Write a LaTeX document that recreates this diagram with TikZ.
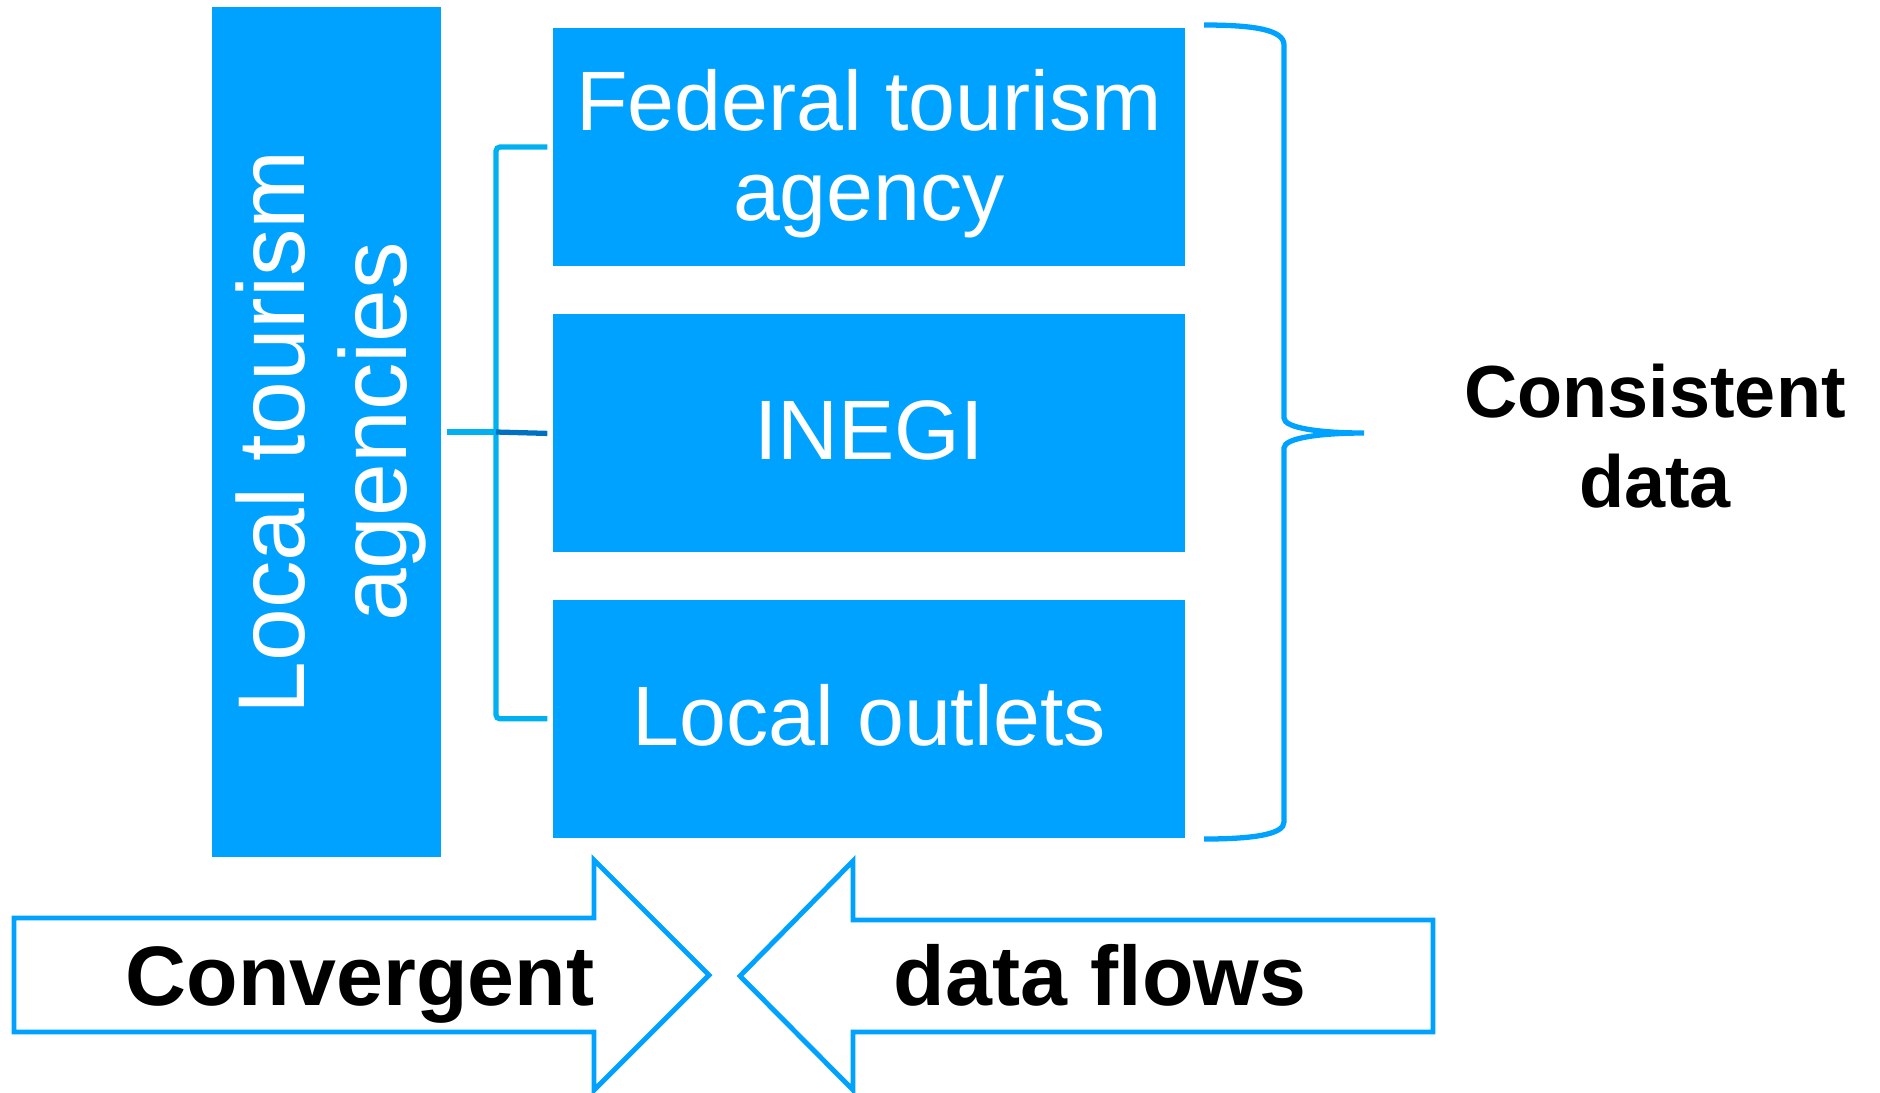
\documentclass[tikz,border=0pt]{standalone}
\usepackage{fontspec}
\setmainfont{Liberation Sans}
\usepackage{xcolor}
\usepackage{tikz}
\usetikzlibrary{positioning,calc}
\definecolor{boxblue}{RGB}{0,162,255}
\definecolor{linkcyan}{RGB}{0,176,240}
\definecolor{linkdark}{RGB}{0,112,192}

\begin{document}
\begin{tikzpicture}[x=0.1mm,y=-0.1mm]
  \tikzstyle{agency} = [fill=boxblue,text=white,inner sep=0pt,minimum width=63.2mm,minimum height=23.8mm,align=center,font=\fontsize{24}{25.6}\selectfont]
  \tikzstyle{bracket} = [draw=linkcyan,line width=1.5pt,rounded corners=0.4mm]
  \tikzstyle{brace} = [draw=boxblue,line width=1.5pt]
  \tikzstyle{flow} = [draw=boxblue,line width=1.4pt,fill=white,line join=miter]
  \tikzstyle{flowtext} = [anchor=base,font=\fontsize{24}{26}\selectfont\bfseries]
  %
  \useasboundingbox (0,0) rectangle (1880,1092);
  % Left column (rotated, so its south is on the right).
  \node[fill=boxblue,text=white,rotate=90,inner sep=0pt,minimum width=85mm,minimum height=22.9mm,align=center,font=\fontsize{27}{29}\selectfont] (local) at (326.5,432) {\rule{0pt}{22pt}Local tourism\\agencies};
  % Stack of sources.
  \node[agency] (fed) at (869,147) {\rule{0pt}{21pt}Federal tourism\\agency};
  \node[agency, below=4.7mm of fed] (inegi) {INEGI\rule[-2pt]{0pt}{1pt}};
  \node[agency, below=4.6mm of inegi] (outlets) {Local outlets\rule[-2pt]{0pt}{1pt}};
  % Bracket between the column and the stack.
  \coordinate (join) at (496,432);
  \draw[bracket] ([xshift=-0.5mm]fed.west) -| (join) |- ([xshift=-0.5mm]outlets.west);
  \draw[bracket] ([xshift=0.5mm]local.south) -- (join);
  \draw[bracket,draw=linkdark] (join) -- ([xshift=-0.5mm]inegi.west);
  % Curly brace on the right.
  \draw[brace] (1204,25) .. controls (1255,25) and (1284,30) .. (1284,45) -- (1284,418)
    .. controls (1284,428) and (1320,433) .. (1364,433)
    .. controls (1320,433) and (1284,438) .. (1284,448) -- (1284,822)
    .. controls (1284,834) and (1255,839) .. (1204,839);
  \node[font=\fontsize{21}{25.6}\selectfont\bfseries,align=center] (consistent) at (1655,436) {Consistent\\data};
  % Two arrows pointing at each other.
  \draw[flow] (14,918) -- (594,918) -- (594,860) -- (709,975) -- (594,1090) -- (594,1032) -- (14,1032) -- cycle;
  \draw[flow] (1433,920) -- (853,920) -- (853,861) -- (740,976) -- (853,1090) -- (853,1032) -- (1433,1032) -- cycle;
  \node[flowtext] (convergent) at (360,1005) {Convergent};
  \node[flowtext] (flows) at (1100,1005) {data flows};
\end{tikzpicture}
\end{document}
